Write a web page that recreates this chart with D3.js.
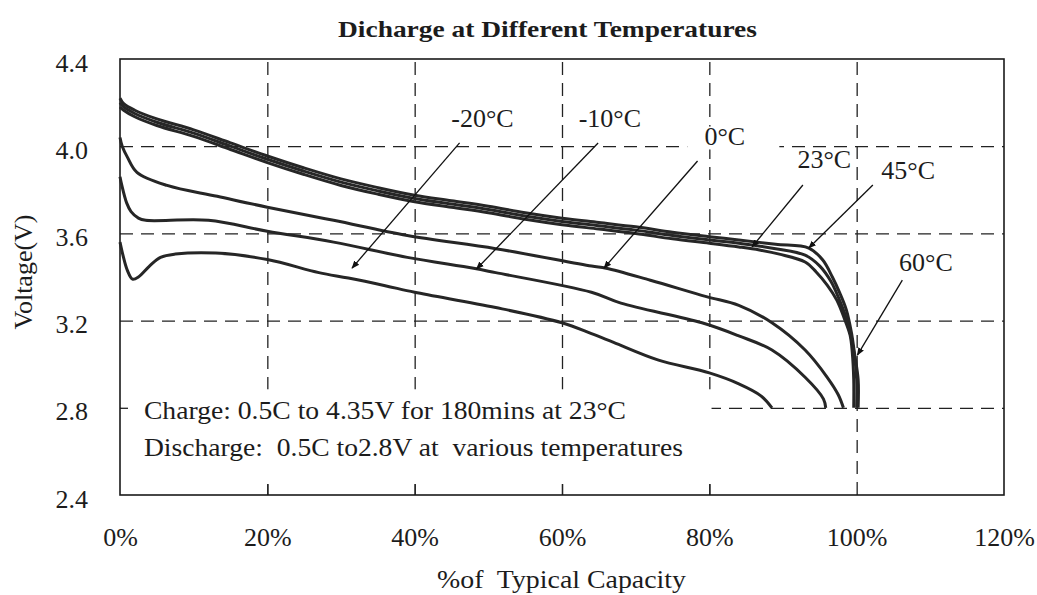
<!DOCTYPE html>
<html>
<head>
<meta charset="utf-8">
<script src="https://cdn.jsdelivr.net/npm/d3@7"></script>
<style>
    body { margin: 0; background: #fff; }
    text { font-family: "Liberation Serif", "Times New Roman", serif; fill: #1c1c1c; }
</style>
</head>
<body>
<div id="chart"></div>
<script>
// axis ticks
const xTicks = [0, 20, 40, 60, 80, 100, 120];
const yTicks = [2.4, 2.8, 3.2, 3.6, 4.0, 4.4];
const temps = ["-20°C", "-10°C", "0°C", "23°C", "45°C", "60°C"];

// discharge curves, capacity (%) and voltage (V)
const capM20 = [0, 0.4, 1.0, 1.7, 2.5, 4.0, 5.5, 7.5, 13, 20, 27, 31, 36, 40, 51, 60, 64, 67, 73, 80, 84, 87, 88.5];
const voltM20 = [3.56, 3.50, 3.43, 3.39, 3.40, 3.45, 3.49, 3.505, 3.51, 3.48, 3.42, 3.395, 3.36, 3.33, 3.26, 3.19, 3.14, 3.10, 3.02, 2.96, 2.91, 2.855, 2.80];

const capM10 = [0, 0.25, 0.9, 1.5, 2.5, 3.5, 12, 20, 29, 39, 48, 51, 64, 68, 79, 84, 88.5, 93, 95.5, 95.8];
const voltM10 = [3.86, 3.82, 3.74, 3.70, 3.67, 3.66, 3.66, 3.61, 3.56, 3.49, 3.44, 3.42, 3.33, 3.28, 3.19, 3.13, 3.065, 2.94, 2.84, 2.80];

const cap0 = [0, 0.3, 1.0, 2.3, 6.4, 13.2, 20, 29, 39, 51, 64, 66, 72, 79.6, 84, 88.5, 93, 96, 97.5, 98.2];
const volt0 = [4.04, 4.0, 3.95, 3.88, 3.82, 3.77, 3.72, 3.66, 3.59, 3.53, 3.45, 3.44, 3.385, 3.31, 3.27, 3.19, 3.065, 2.94, 2.86, 2.80];

const cap23 = [0, 0.5, 2, 5, 10, 15, 20, 25, 30, 35, 40, 45, 50, 55, 60, 65, 70, 75, 80, 84, 86.8, 89.5, 93, 94.5, 96, 97.3, 98.3, 99.1, 99.4, 99.6, 99.6];
const volt23 = [4.18, 4.165, 4.135, 4.095, 4.045, 3.985, 3.925, 3.87, 3.82, 3.78, 3.745, 3.72, 3.695, 3.665, 3.64, 3.62, 3.60, 3.575, 3.555, 3.538, 3.524, 3.505, 3.469, 3.423, 3.363, 3.294, 3.212, 3.134, 3.056, 2.93, 2.80];

const cap45 = [0, 0.5, 2, 5, 10, 15, 20, 25, 30, 35, 40, 45, 50, 55, 60, 65, 70, 75, 80, 84, 89, 93.5, 95.4, 96.7, 97.7, 98.6, 99.3, 99.7, 100.2, 100.2];
const volt45 = [4.22, 4.195, 4.165, 4.125, 4.075, 4.015, 3.955, 3.90, 3.85, 3.81, 3.775, 3.75, 3.725, 3.695, 3.67, 3.65, 3.63, 3.605, 3.585, 3.57, 3.55, 3.533, 3.478, 3.40, 3.327, 3.249, 3.143, 3.051, 2.93, 2.80];

const cap60 = [0, 0.5, 2, 5, 10, 15, 20, 25, 30, 35, 40, 45, 50, 55, 60, 65, 70, 75, 80, 84, 89, 93, 95, 96.5, 97.6, 98.5, 99.2, 99.7, 100, 100];
const volt60 = [4.20, 4.18, 4.15, 4.11, 4.06, 4.0, 3.94, 3.885, 3.835, 3.795, 3.76, 3.735, 3.71, 3.68, 3.655, 3.635, 3.615, 3.59, 3.57, 3.555, 3.53, 3.50, 3.45, 3.38, 3.30, 3.22, 3.13, 3.04, 2.93, 2.80];

const caps = [capM20, capM10, cap0, cap23, cap45, cap60];
const volts = [voltM20, voltM10, volt0, volt23, volt45, volt60];

class dischargeChart {
    constructor(root) {
        this.width = 1037;
        this.height = 595;
        // plot box in pixels
        this.left = 120;
        this.right = 1004;
        this.top = 59;
        this.bottom = 495;

        this.svg = root.append("svg")
            .attr("width", this.width)
            .attr("height", this.height);

        this.x = d3.scaleLinear().domain([0, 120]).range([this.left, this.right]);
        this.y = d3.scaleLinear().domain([2.4, 4.4]).range([this.bottom, this.top]);

        this.drawGrid();
        this.drawCurves();
        this.drawLabels();
    }

    drawGrid() {
        const svg = this.svg;
        const x = this.x, y = this.y;
        const h = this.bottom - this.top;
        const w = this.right - this.left;

        // dashed grid lines
        const gx = svg.append("g")
            .attr("transform", `translate(0,${this.bottom})`)
            .call(d3.axisBottom(x).tickValues([20, 40, 60, 80, 100]).tickSize(-h).tickFormat(""));
        const gy = svg.append("g")
            .attr("transform", `translate(${this.left},0)`)
            .call(d3.axisLeft(y).tickValues([2.8, 3.2, 3.6, 4.0]).tickSize(-w).tickFormat(""));
        [gx, gy].forEach(g => {
            g.select(".domain").remove();
            g.selectAll("line")
                .attr("stroke", "#222")
                .attr("stroke-width", 1.3)
                .attr("stroke-dasharray", "13,8");
        });

        // white note box hides the grid behind the text
        svg.append("rect")
            .attr("x", x(0.15)).attr("y", y(2.885))
            .attr("width", x(80.3) - x(0.15))
            .attr("height", y(2.45) - y(2.885))
            .attr("fill", "#fff");

        // white box behind the 0°C label
        svg.append("rect")
            .attr("x", x(77.0)).attr("y", y(4.09))
            .attr("width", x(89.5) - x(77.0))
            .attr("height", y(3.985) - y(4.09))
            .attr("fill", "#fff");

        // small inner ticks
        const tb = svg.append("g")
            .attr("transform", `translate(0,${this.bottom})`)
            .call(d3.axisBottom(x).tickValues([20, 40, 60, 80]).tickSize(-11).tickFormat(""));
        const tl = svg.append("g")
            .attr("transform", `translate(${this.left},0)`)
            .call(d3.axisLeft(y).tickValues([2.8]).tickSize(-8).tickFormat(""));
        [tb, tl].forEach(g => {
            g.select(".domain").remove();
            g.selectAll("line").attr("stroke", "#222").attr("stroke-width", 1.3);
        });

        // frame
        svg.append("rect")
            .attr("x", this.left).attr("y", this.top)
            .attr("width", w).attr("height", h)
            .attr("fill", "none")
            .attr("stroke", "#1a1a1a")
            .attr("stroke-width", 1.6);
    }

    drawCurves() {
        const x = this.x, y = this.y;
        const line = d3.line()
            .x(d => x(d[0]))
            .y(d => y(d[1]))
            .curve(d3.curveCatmullRom.alpha(0.5));

        this.svg.append("g")
            .selectAll("path")
            .data(caps.map((c, i) => c.map((v, j) => [v, volts[i][j]])))
            .join("path")
            .attr("d", line)
            .attr("fill", "none")
            .attr("stroke", "#262626")
            .attr("stroke-width", 3)
            .attr("stroke-linejoin", "round");
    }

    drawLabels() {
        const svg = this.svg;
        const x = this.x, y = this.y;

        // tick labels
        const bx = svg.append("g")
            .attr("transform", `translate(0,${this.bottom})`)
            .call(d3.axisBottom(x).tickValues(xTicks).tickSize(0).tickFormat(d => d + "%"));
        bx.select(".domain").remove();
        bx.selectAll("text")
            .attr("y", 51).attr("dy", null)
            .style("font-size", "26px");

        const ly = svg.append("g")
            .attr("transform", `translate(${this.left},0)`)
            .call(d3.axisLeft(y).tickValues(yTicks).tickSize(0).tickFormat(d3.format(".1f")));
        ly.select(".domain").remove();
        ly.selectAll("text")
            .attr("x", -32).attr("y", 12).attr("dy", null)
            .style("font-size", "26px");

        // titles
        svg.append("text")
            .attr("x", 338).attr("y", 37)
            .attr("textLength", 419)
            .attr("lengthAdjust", "spacingAndGlyphs")
            .style("font-size", "24px")
            .style("font-weight", "bold")
            .text("Dicharge at Different Temperatures");

        svg.append("text")
            .attr("x", 437).attr("y", 588)
            .attr("textLength", 249)
            .attr("lengthAdjust", "spacingAndGlyphs")
            .style("font-size", "26px")
            .style("white-space", "pre")
            .text("%of  Typical Capacity");

        svg.append("text")
            .attr("transform", "translate(32,272) rotate(-90)")
            .attr("text-anchor", "middle")
            .style("font-size", "26px")
            .text("Voltage(V)");

        // note box text
        svg.append("text")
            .attr("x", x(3.25)).attr("y", y(2.75))
            .attr("textLength", 482)
            .attr("lengthAdjust", "spacingAndGlyphs")
            .style("font-size", "26px")
            .style("white-space", "pre")
            .text("Charge: 0.5C to 4.35V for 180mins at 23°C");
        svg.append("text")
            .attr("x", x(3.25)).attr("y", y(2.58))
            .attr("textLength", 539)
            .attr("lengthAdjust", "spacingAndGlyphs")
            .style("font-size", "26px")
            .style("white-space", "pre")
            .text("Discharge:  0.5C to2.8V at  various temperatures");

        // arrow head
        svg.append("defs").append("marker")
            .attr("id", "head")
            .attr("viewBox", "0 0 10 10")
            .attr("refX", 9).attr("refY", 5)
            .attr("markerWidth", 8).attr("markerHeight", 8)
            .attr("markerUnits", "userSpaceOnUse")
            .attr("orient", "auto")
            .append("path")
            .attr("d", "M0,1 L10,5 L0,9 Z")
            .attr("fill", "#111");

        // label placement: text (cap, volt), arrow start and end (cap, volt)
        const notes = [
            { t: [49.2, 4.088], a: [46.1, 4.015], b: [31.5, 3.441] },
            { t: [66.5, 4.088], a: [64.9, 4.015], b: [48.4, 3.437] },
            { t: [82.1, 4.005], a: [78.4, 3.932], b: [65.7, 3.441] },
            { t: [95.6, 3.900], a: [92.7, 3.822], b: [85.8, 3.538] },
            { t: [107.0, 3.850], a: [102.2, 3.822], b: [93.5, 3.533] },
            { t: [109.4, 3.428], a: [106.2, 3.386], b: [100.1, 3.042] }
        ];

        notes.forEach((n, i) => {
            svg.append("line")
                .attr("x1", x(n.a[0])).attr("y1", y(n.a[1]))
                .attr("x2", x(n.b[0])).attr("y2", y(n.b[1]))
                .attr("stroke", "#111")
                .attr("stroke-width", 1.3)
                .attr("marker-end", "url(#head)");
            svg.append("text")
                .attr("x", x(n.t[0])).attr("y", y(n.t[1]))
                .attr("text-anchor", "middle")
                .style("font-size", "26px")
                .text(temps[i]);
        });
    }
}

new dischargeChart(d3.select("#chart"));
</script>
</body>
</html>
